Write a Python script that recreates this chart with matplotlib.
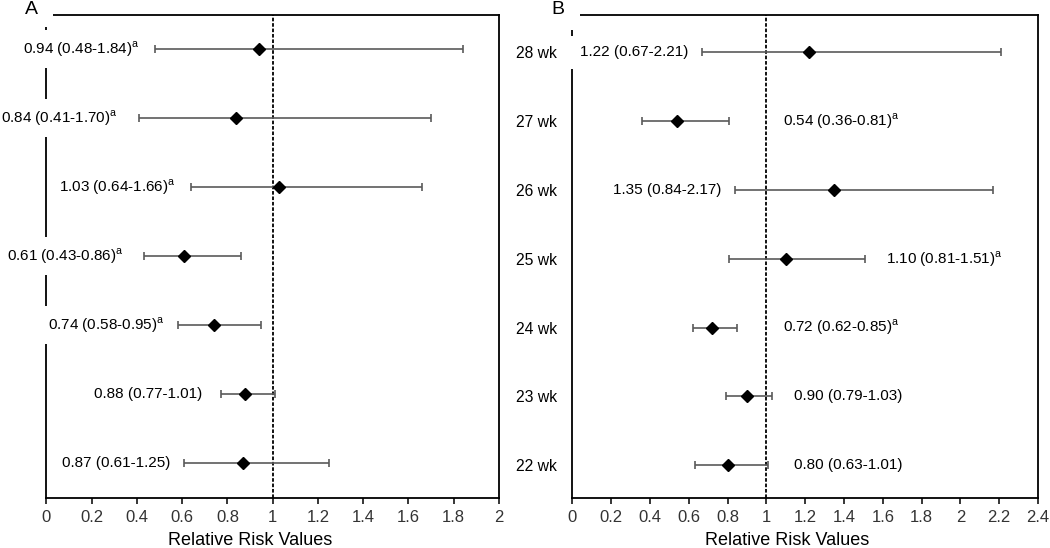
import matplotlib
matplotlib.use("Agg")
import matplotlib.pyplot as plt
from matplotlib.ticker import FuncFormatter, MultipleLocator
from matplotlib.patches import Rectangle

plt.rcParams['font.family'] = ['Liberation Sans', 'DejaVu Sans']

# ---------------- data (top row first) ----------------
a_rr = [0.94, 0.84, 1.03, 0.61, 0.74, 0.88, 0.87]
a_lo = [0.48, 0.41, 0.64, 0.43, 0.58, 0.77, 0.61]
a_hi = [1.84, 1.70, 1.66, 0.86, 0.95, 1.01, 1.25]
a_sig = [True, True, True, True, True, False, False]

b_weeks = ['28 wk', '27 wk', '26 wk', '25 wk', '24 wk', '23 wk', '22 wk']
b_rr = [1.22, 0.54, 1.35, 1.10, 0.72, 0.90, 0.80]
b_lo = [0.67, 0.36, 0.84, 0.81, 0.62, 0.79, 0.63]
b_hi = [2.21, 0.81, 2.17, 1.51, 0.85, 1.03, 1.01]
b_sig = [False, True, False, True, True, False, False]

# annotation placement (left edge of label, x in data units)
a_text_x = [-0.103, -0.20, 0.056, -0.174, 0.008, 0.21, 0.069]
b_text_x = [0.04, 1.085, 0.21, 1.615, 1.085, 1.14, 1.14]

W, H = 1050, 548
fig = plt.figure(figsize=(W / 100, H / 100), dpi=100)

def px_axes(l, r, t, b):
    return fig.add_axes([l / W, 1 - b / H, (r - l) / W, (b - t) / H])

axA = px_axes(46.3, 499, 14.5, 497.5)
axB = px_axes(572.3, 1038, 14.5, 497.5)


def label(rr, lo, hi, sig):
    s = f"{rr:.2f} ({lo:.2f}-{hi:.2f})"
    if sig:
        s += r"$^{\mathregular{a}}$"
    return s


def draw(ax, rr, lo, hi, sig, tx, xmax, ylim):
    n = len(rr)
    ys = list(range(n, 0, -1))
    xerr = [[r - l for r, l in zip(rr, lo)], [h - r for r, h in zip(rr, hi)]]
    ax.errorbar(rr, ys, xerr=xerr, fmt='none', ecolor='#5a5a5a',
                elinewidth=1.2, capsize=3.2, capthick=1.2, zorder=2)
    ax.plot(rr, ys, linestyle='none', marker='D', markersize=6.3,
            color='black', zorder=3)
    ax.axvline(1, color='black', linestyle=(0, (2, 1)), linewidth=1.3, zorder=1)
    for x, y, r, l, h, s in zip(tx, ys, rr, lo, hi, sig):
        ax.text(x, y, label(r, l, h, s), ha='left', va='center', fontsize=11,
                color='black', clip_on=False, zorder=5,
                bbox=dict(boxstyle='square,pad=0.62', facecolor='white',
                          edgecolor='none'))
    ax.set_xlim(0, xmax)
    ax.set_ylim(*ylim)
    ax.xaxis.set_major_locator(MultipleLocator(0.2))
    ax.xaxis.set_major_formatter(FuncFormatter(lambda v, p: f"{v:g}"))
    ax.tick_params(axis='x', direction='out', length=4, width=1.1,
                   labelsize=12, labelcolor='#333333', pad=5)
    for sp in ax.spines.values():
        sp.set_linewidth(1.3)
        sp.set_color('black')
    ax.set_xlabel('Relative Risk Values', fontsize=13)
    return ys


draw(axA, a_rr, a_lo, a_hi, a_sig, a_text_x, 2.0, (0.5, 7.5))
axA.set_yticks([])
axA.xaxis.set_label_coords(0.45, -0.072)

ysB = draw(axB, b_rr, b_lo, b_hi, b_sig, b_text_x, 2.4, (0.53, 7.55))
axB.set_yticks(ysB)
axB.set_yticklabels(b_weeks)
axB.tick_params(axis='y', length=0, pad=11, labelsize=11.3)
axB.xaxis.set_label_coords(0.461, -0.072)

# panel letters with white boxes hiding the corners
fig.patches.append(Rectangle((0, 1 - 27 / H), 53 / W, 27 / H,
                             transform=fig.transFigure, facecolor='white',
                             edgecolor='none', zorder=1))
fig.patches.append(Rectangle((540 / W, 1 - 30 / H), 40 / W, 30 / H,
                             transform=fig.transFigure, facecolor='white',
                             edgecolor='none', zorder=1))
fig.text(31 / W, 1 - 9 / H, 'A', ha='center', va='center', fontsize=14, zorder=3)
fig.text(558 / W, 1 - 9 / H, 'B', ha='center', va='center', fontsize=14, zorder=3)

fig.savefig('out.png', dpi=100, facecolor='white')
